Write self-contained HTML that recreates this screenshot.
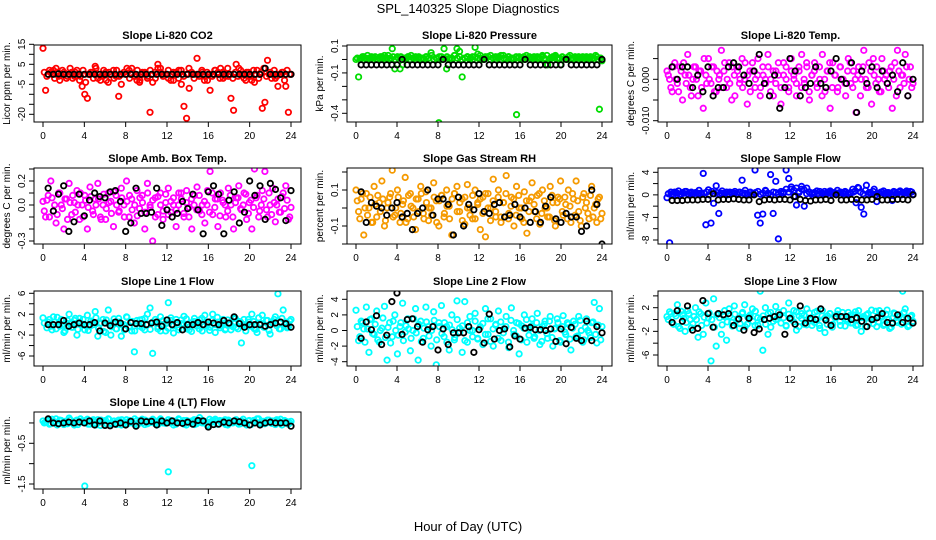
<!DOCTYPE html>
<html><head><meta charset="utf-8"><style>
html,body{margin:0;padding:0;background:#fff;}
svg{display:block;font-family:"Liberation Sans",Arial,sans-serif;}
</style></head><body>
<svg id="chart" width="936" height="540" viewBox="0 0 936 540" xmlns="http://www.w3.org/2000/svg">
<text x="468" y="13" text-anchor="middle" font-size="13">SPL_140325  Slope Diagnostics</text>
<text x="468" y="531" text-anchor="middle" font-size="13">Hour of Day (UTC)</text>
</svg>
<script>
// x-axis ticks shared by all panels
const xTicks = [0,4,8,12,16,20,24];

// Panel 1: Li-820 CO2
const co2Color = [13,-8,0,1,2,3,-1,0,1,-2,0,1,-1,2,-3,-6,-10,-12,0,1,4,-2,-3,0,1,-4,0,2,-1,-11,-5,1,0,2,3,-1,-3,-4,0,1,-2,-19,-4,1,5,3,0,0,-2,0,-3,1,2,-5,-16,-22,-7,0,0,8,0,1,-1,-3,-8,0,2,1,3,-2,0,-1,-12,-18,5,3,0,-2,1,0,-3,-4,2,0,-17,-14,7,1,0,-2,-6,0,1,-6,-19,0];
const co2Color2 = [1,-1,2,0,-2,1,-3,2,0,-1,3,-2,1,0,-1,2,-4,0,1,-2,3,0,-1,2,-3,1,0,-2,2,-1,0,1,3,-2,0,-1,2,-3,1,0,-1,2,0,-2,3,1,-1,0,2,-3,1,0,-2,2,-1,0,3,1,-2,0,-1,2,-3,1,0,-1,2,0,-2,1,-1,3,0,-2,1,-1,2,0,-3,1,-1,2,0,-2,1,3,-1,0,-2,2,-1,0,1,-3,2,0];
const co2Black = [0,0,0.2,0,0,0,0,0,0,0,0,0,0,0,0,0,0,0,0,0,0,0,0,0,0,0,0,0,0,0,0,0,0,0,0,0,0,0,0,0,0,0,3,0,0,0,0,0];
const co2Ticks = [15,10,5,0,-5,-10,-15,-20];
const co2Labels = ["15","","5","","-5","","","-20"];

// Panel 2: Li-820 Pressure
const presColor = [0.0,-0.13,0.01,0.02,0.0,0.01,0.02,0.01,0.0,0.01,0.02,0.03,0.01,0.0,0.08,-0.07,0.02,-0.07,-0.04,0.01,0.02,0.0,0.01,0.02,0.01,0.0,0.01,0.02,0.01,0.05,0.0,0.01,-0.47,0.02,0.08,-0.07,0.0,0.01,0.03,0.08,0.06,-0.13,0.01,0.02,0.0,0.02,0.09,0.04,0.0,0.01,0.02,0.02,0.03,0.01,0.0,0.02,0.03,0.01,0.0,0.02,0.01,0.0,-0.41,0.02,0.01,0.0,0.01,0.02,0.01,0.0,0.02,0.01,0.03,0.0,-0.04,0.01,0.02,0.03,0.01,-0.04,0.0,0.01,0.02,0.01,0.0,0.01,0.02,0.01,0.0,0.02,0.01,0.0,0.01,0.02,-0.37,-0.01];
const presColor2 = [0.01,0.0,0.02,0.01,0.03,0.0,0.01,0.02,0.0,0.02,0.01,0.0,0.03,0.01,0.02,0.0,0.01,0.02,0.01,0.0,0.02,0.03,0.01,0.0,0.02,0.01,0.0,0.02,0.01,0.03,0.0,0.01,0.02,0.0,0.01,0.02,0.01,0.0,0.03,0.01,0.02,0.0,0.01,0.02,0.01,0.0,0.02,0.01,0.03,0.0,0.01,0.02,0.0,0.01,0.02,0.01,0.0,0.03,0.01,0.02,0.0,0.01,0.02,0.01,0.0,0.02,0.03,0.01,0.0,0.02,0.01,0.0,0.02,0.01,0.03,0.0,0.01,0.02,0.0,0.01,0.02,0.01,0.0,0.03,0.01,0.02,0.0,0.01,0.02,0.01,0.0,0.02,0.01,0.03,0.0,0.01];
const presBlack = [-0.04,-0.04,-0.04,-0.04,-0.04,-0.04,-0.04,-0.04,0.0,-0.04,-0.04,-0.04,-0.04,-0.04,-0.04,-0.04,0.0,-0.04,-0.04,-0.04,-0.04,-0.04,-0.04,-0.04,0.0,-0.04,-0.04,-0.04,-0.04,-0.04,-0.04,-0.04,0.0,-0.04,-0.04,-0.04,-0.04,-0.04,-0.04,-0.04,0.0,-0.04,-0.04,-0.04,-0.04,-0.04,-0.04,0.0];
const presTicks = [0.1,0.0,-0.1,-0.2,-0.3,-0.4];
const presLabels = ["0.1","","-0.1","","","-0.4"];

// Panel 3: Li-820 Temp
const tempColor = [0.002,0.0,-0.003,0.004,-0.001,0.003,-0.005,0.001,0.006,-0.002,0.0,0.003,-0.004,0.002,-0.007,0.001,0.005,-0.001,0.003,-0.003,0.0,0.007,0.002,-0.002,0.004,-0.005,0.001,0.003,-0.001,0.005,0.0,-0.006,0.002,0.004,-0.002,0.001,-0.004,0.003,0.0,0.006,-0.003,0.002,-0.001,0.004,-0.006,0.001,0.003,-0.002,0.005,0.0,-0.004,0.002,0.006,-0.001,0.003,-0.005,0.001,0.004,-0.002,0.0,0.006,-0.003,0.002,-0.007,0.004,0.001,-0.002,0.003,0.0,-0.004,0.005,-0.001,0.002,-0.008,0.003,0.0,0.007,-0.002,0.004,-0.006,0.001,0.003,-0.003,0.005,0.0,-0.001,0.002,-0.007,0.004,0.007,-0.002,0.001,0.006,-0.004,0.003,-0.001];
const tempColor2 = [0.001,-0.002,0.003,0.0,-0.003,0.002,0.004,-0.001,0.001,-0.004,0.003,0.0,0.002,-0.002,0.005,-0.001,0.0,0.003,-0.003,0.002,0.001,-0.002,0.004,0.0,-0.001,0.003,-0.004,0.002,0.0,-0.002,0.004,0.001,-0.003,0.002,0.0,0.005,-0.002,0.001,-0.001,0.003,0.0,-0.004,0.002,0.001,-0.002,0.004,0.0,-0.003,0.002,0.001,-0.001,0.003,-0.002,0.0,0.004,-0.003,0.001,0.002,-0.001,0.003,-0.004,0.0,0.002,0.004,-0.002,0.001,-0.003,0.003,0.0,-0.001,0.002,0.004,-0.002,0.0,0.001,-0.004,0.003,0.0,-0.002,0.002,0.005,-0.001,0.0,-0.003,0.002,0.001,-0.002,0.003,0.0,-0.004,0.002,0.001,-0.001,0.003,0.0,-0.002];
const tempBlack = [0.003,0.0,0.003,0.003,-0.002,0.001,-0.003,0.003,-0.004,-0.002,-0.002,0.003,0.004,0.003,0.001,-0.001,0.002,0.006,-0.001,-0.004,0.001,-0.007,-0.002,0.005,0.002,-0.004,-0.002,-0.001,0.003,-0.001,-0.002,0.002,0.005,0.0,-0.001,0.004,-0.008,0.002,-0.001,0.003,-0.002,0.002,-0.001,0.001,-0.003,0.004,-0.004,0.0];
const tempTicks = [0.005,0.0,-0.005,-0.010];
const tempLabels = ["","0.000","","-0.010"];

// Panel 4: Amb. Box Temp
const ambColor = [0.03,-0.1,0.08,0.2,-0.05,-0.15,0.1,0.0,-0.2,0.05,0.18,-0.08,0.02,0.12,-0.12,0.0,0.08,-0.2,0.15,-0.05,0.05,0.18,-0.1,0.0,-0.12,0.1,0.03,-0.18,0.08,-0.06,0.14,0.0,0.2,-0.1,0.05,-0.15,0.12,-0.03,0.08,-0.2,0.18,0.0,-0.3,0.06,-0.08,0.1,-0.12,0.02,0.14,-0.06,0.0,-0.18,0.1,0.05,-0.1,0.12,-0.02,-0.2,0.08,0.15,-0.05,0.0,-0.15,0.12,0.28,-0.08,0.05,-0.18,0.1,0.02,-0.1,0.14,0.0,-0.2,0.06,0.16,-0.04,0.1,-0.12,0.02,-0.2,0.3,0.08,-0.05,0.12,0.28,-0.1,0.0,0.14,-0.14,0.05,-0.06,0.1,0.16,-0.12,-0.02];
const ambColor2 = [-0.05,0.04,-0.1,0.06,0.0,-0.08,0.1,-0.03,0.05,-0.12,0.02,0.08,-0.06,0.0,0.1,-0.1,0.04,-0.02,0.07,-0.08,0.0,0.05,-0.12,0.09,-0.03,0.02,-0.07,0.11,0.0,-0.05,0.06,-0.1,0.03,0.08,-0.04,0.0,-0.09,0.06,0.02,-0.06,0.1,-0.02,0.04,-0.1,0.07,0.0,-0.05,0.09,-0.08,0.03,0.06,-0.04,0.0,0.1,-0.07,0.02,-0.1,0.05,0.0,-0.04,0.08,-0.08,0.03,0.0,-0.06,0.1,-0.02,0.05,-0.09,0.04,0.0,-0.05,0.08,-0.1,0.02,0.06,-0.03,0.0,0.09,-0.07,0.04,-0.02,0.06,-0.1,0.0,0.05,-0.04,0.1,-0.08,0.02,0.0,-0.06,0.07,-0.03,0.04,-0.1];
const ambBlack = [0.14,-0.05,0.09,0.16,-0.22,-0.14,0.09,-0.09,0.04,0.1,0.07,0.06,0.11,0.12,0.03,-0.22,-0.15,0.14,-0.07,-0.07,-0.06,0.14,-0.17,-0.04,-0.1,-0.07,0.03,-0.03,0.09,-0.04,-0.24,0.11,0.16,0.09,-0.24,0.04,0.11,-0.15,-0.06,0.2,0.08,0.16,-0.12,0.18,0.13,0.06,-0.13,0.12];
const ambTicks = [0.3,0.2,0.1,0.0,-0.1,-0.2,-0.3];
const ambLabels = ["","0.2","","0.0","","","-0.3"];

// Panel 5: Gas Stream RH
const rhColor = [0.1,-0.02,0.05,-0.15,0.08,0.0,-0.08,0.12,-0.05,0.03,0.15,-0.1,0.0,0.06,0.21,-0.04,0.1,-0.08,0.02,0.17,-0.06,0.08,0.0,-0.12,0.05,0.12,-0.03,0.09,-0.07,0.0,0.14,0.04,-0.1,0.07,-0.05,0.1,0.01,-0.15,0.08,0.12,-0.02,0.05,-0.09,0.13,0.0,-0.06,0.1,0.03,-0.12,0.06,-0.16,0.08,0.0,0.16,-0.05,0.1,-0.08,0.03,0.18,-0.03,0.06,-0.1,0.12,0.0,-0.06,0.09,-0.14,0.04,0.14,-0.02,0.07,-0.09,0.1,0.0,-0.05,0.12,0.03,-0.1,0.06,0.15,-0.04,0.02,0.1,-0.08,0.05,0.15,-0.02,-0.1,0.08,0.03,-0.06,0.12,0.0,-0.08,0.06,-0.03];
const rhColor2 = [0.04,-0.06,0.08,0.0,-0.04,0.06,-0.08,0.02,0.07,-0.02,0.05,-0.07,0.03,0.08,-0.05,0.0,0.06,-0.03,0.04,-0.08,0.07,0.01,-0.05,0.05,-0.02,0.08,-0.06,0.03,0.0,-0.04,0.06,-0.08,0.04,0.07,-0.03,0.01,-0.06,0.05,0.08,-0.02,0.03,-0.07,0.06,0.0,-0.04,0.07,-0.06,0.02,0.05,-0.03,0.08,0.0,-0.07,0.04,-0.02,0.06,-0.05,0.03,0.08,-0.06,0.01,0.05,-0.04,0.07,0.0,-0.08,0.04,-0.02,0.06,0.02,-0.06,0.08,-0.03,0.04,0.0,-0.05,0.07,-0.07,0.03,0.05,-0.02,0.06,-0.06,0.01,0.08,-0.04,0.04,-0.07,0.06,0.0,-0.03,0.07,-0.05,0.02,0.05,-0.06];
const rhBlack = [0.09,-0.08,0.03,0.01,0.0,-0.04,0.0,0.03,-0.05,-0.03,-0.12,-0.03,0.0,0.1,-0.04,0.05,0.05,0.02,-0.15,0.06,-0.1,0.02,-0.01,0.08,-0.02,-0.03,0.02,0.03,-0.05,-0.04,0.02,-0.05,0.0,-0.08,-0.02,-0.08,0.01,0.06,-0.06,-0.08,-0.03,-0.05,-0.05,-0.13,-0.1,0.1,0.02,-0.2];
const rhTicks = [0.2,0.1,0.0,-0.1,-0.2];
const rhLabels = ["","0.1","","-0.1",""];

// Panel 6: Sample Flow
const sfColor = [-0.5,-8.5,0.2,0.5,0.3,0.1,0.4,0.6,0.2,0.3,0.1,0.4,0.2,0.3,3.8,-5.3,0.9,-5,-1.5,1.6,-3.3,0.3,0.2,0.5,0.1,0.4,0.3,0.2,0.5,2.6,0.3,0.2,0.4,0.1,4.4,-3.6,-5,-3.4,0.8,0.3,3.6,-3.3,2.4,-7.8,0.3,0.5,4.4,2.9,1.0,-0.3,-1.8,0.4,1.0,-2.0,1.2,0.5,0.3,0.4,0.2,0.6,0.3,0.1,0.5,0.7,0.4,0.2,0.3,0.5,0.2,0.4,0.1,0.3,0.5,-1.4,1.2,-2.2,-3.4,1.7,0.4,0.2,1.0,-1.2,0.3,0.5,0.2,0.4,0.3,-1.0,0.5,0.2,0.7,0.4,0.3,0.5,0.6,0.1];
const sfColor2 = [0.2,0.5,0.0,0.4,0.7,0.1,0.3,0.6,0.0,0.5,0.2,0.4,0.8,0.1,0.3,0.5,0.0,0.6,0.2,0.4,0.1,0.7,0.3,0.0,0.5,0.2,0.6,0.1,0.4,0.3,0.8,0.0,0.5,0.2,0.4,0.6,0.1,0.3,0.7,0.2,0.0,0.5,0.4,0.1,0.6,0.3,1.0,0.5,1.4,0.8,1.2,0.6,1.5,0.9,0.2,0.5,0.1,0.4,0.7,0.0,0.3,0.6,0.2,0.5,0.1,0.4,0.8,0.0,0.3,0.6,0.2,0.4,1.0,0.7,1.3,0.5,0.2,0.8,0.1,0.4,0.6,0.0,0.3,0.5,0.7,0.2,0.4,0.1,0.6,0.3,0.5,0.0,0.4,0.7,0.2,0.5];
const sfBlack = [-1,-1,-1,-0.9,-0.9,-0.9,-0.8,-0.8,0.2,-0.9,-0.8,-0.8,-0.7,-0.8,-0.9,-0.9,0.0,-1.2,-0.9,-0.8,-0.9,-0.8,-0.8,-0.9,-0.3,-0.8,-1.0,-1.1,-0.9,-0.9,-0.8,-1.0,0.0,-0.9,-0.9,-0.8,-0.8,-0.9,-0.9,-0.8,-0.3,-0.9,-0.9,-0.8,-0.8,-0.8,-0.9,0.0];
const sfTicks = [4,2,0,-2,-4,-6,-8];
const sfLabels = ["4","","0","","-4","","-8"];

// Panel 7: Line 1 Flow
const l1Color = [1.3,-8.5,0.5,-0.3,1.5,-0.8,0.2,1.0,-1.5,0.3,2.0,-0.5,0.8,-2.0,1.2,0.0,-1.0,1.8,-0.3,0.5,2.5,-2.2,0.3,1.0,-1.5,2.8,-2.0,0.4,-0.8,1.2,-2.2,0.0,1.5,-0.5,-1.2,-5.2,0.8,-0.3,1.0,-1.0,2.0,3.2,-5.5,0.5,-0.8,1.5,0.0,-1.2,4.2,0.8,-1.6,1.0,-0.5,0.2,1.6,-0.8,-1.0,0.4,1.2,-0.3,0.9,-1.2,1.8,0.0,-0.5,2.0,-1.5,0.5,-0.2,1.0,-0.8,0.3,-1.0,1.2,-0.5,0.6,-3.5,1.0,-0.3,0.5,2.0,-0.8,-1.5,0.2,1.8,-0.5,0.8,-1.8,0.4,1.5,5.9,-0.8,2.8,0.5,-0.5,1.0];
const l1Color2 = [0.3,-0.6,1.0,-1.0,0.5,1.4,-0.3,0.0,-1.2,0.8,0.2,-0.5,1.2,-0.9,0.4,1.0,-0.2,-1.1,0.7,0.0,1.3,-0.7,0.3,-1.3,0.9,0.1,-0.4,1.1,-0.8,0.5,0.0,-1.0,1.4,-0.3,0.6,-1.2,0.2,0.9,-0.6,1.2,0.0,-0.9,0.5,1.0,-0.4,-1.2,0.8,0.2,-0.7,1.3,-0.2,0.4,-1.0,0.9,0.0,1.1,-0.5,-1.3,0.6,0.2,-0.8,1.2,-0.3,0.5,-1.1,0.8,0.0,1.4,-0.6,0.3,-1.0,0.9,0.1,-0.4,1.2,-0.8,0.5,0.0,-1.2,1.0,-0.3,0.6,-0.9,1.3,0.2,-0.5,0.8,-1.1,0.4,1.0,-0.2,-0.8,1.2,0.0,-0.6,0.7];
const l1Black = [0,0,0,0.8,-0.3,0,0.3,0,0,0.4,-1.2,0.3,-0.2,0.5,0.3,-0.8,0.4,0.2,0.2,0,0.3,0.5,-0.3,0.9,0,0.4,-1,0,0,0.4,0,0.5,0.3,0,0.8,0.3,1.5,0.2,-0.5,0,0,0,-0.3,0,0.3,0.5,0.2,-0.5];
const l1Ticks = [6,4,2,0,-2,-4,-6];
const l1Labels = ["6","","2","","-2","","-6"];

// Panel 8: Line 2 Flow
const l2Color = [2.6,-1.3,1.2,0.2,3.0,-2.8,1.5,-0.5,2.5,-1.5,0.3,3.1,-3.8,1.0,-0.8,2.0,-3.0,0.5,3.5,-0.2,1.5,-2.6,0.0,2.8,-3.8,1.2,-1.0,3.0,0.5,-2.0,2.4,-4.4,1.0,3.2,-0.8,0.5,-2.5,2.0,-1.2,3.8,0.3,-2.8,3.7,-1.5,1.8,0.0,2.2,-1.0,0.5,-1.8,2.8,-0.5,1.5,-2.0,0.8,2.5,-1.3,0.2,1.8,-2.2,2.9,-0.5,1.0,-3.0,0.6,2.0,-1.5,0.2,1.5,-0.8,2.2,-1.8,0.5,1.2,-1.0,1.8,-2.0,0.3,1.0,-1.5,1.9,-0.5,0.8,-2.5,1.2,-0.8,1.8,0.0,-1.2,1.5,-0.3,1.0,3.6,-1.6,2.8,0.5];
const l2Color2 = [0.5,-0.8,1.0,-1.5,0.2,1.4,-0.4,0.8,-1.2,0.0,1.6,-0.9,0.4,-1.6,1.2,0.0,-0.6,1.0,-1.3,0.6,0.2,-1.0,1.5,-0.3,0.8,-1.4,0.3,1.1,-0.7,0.0,1.3,-1.2,0.5,-0.4,1.0,-1.5,0.7,0.1,-0.9,1.4,-0.2,0.6,-1.3,1.0,0.0,-0.8,1.2,-1.1,0.4,0.9,-0.5,1.5,-1.4,0.2,0.7,-1.0,1.1,-0.3,0.5,-1.5,1.3,0.0,-0.7,0.9,-1.2,0.3,1.4,-0.6,0.6,-1.0,1.0,0.0,-1.4,0.8,-0.4,1.2,-0.9,0.2,1.5,-1.3,0.5,-0.2,1.0,-1.1,0.3,0.8,-0.7,1.3,-1.5,0.4,0.0,-0.9,1.1,-0.5,0.7,-1.2];
const l2Black = [-1,1.1,0.1,1.9,-1.8,-0.6,3.7,4.8,-0.5,1.4,1.5,0.5,-1.5,0.1,0.5,-2.5,0.2,-1.8,-0.3,-0.3,-0.3,0.5,-2.8,0.1,-1.6,2.1,-1.1,0.0,0.2,-2.1,-0.7,-1.1,0.3,0.4,0.1,0.1,0.0,0.2,-1.4,0.2,-1.7,0.4,-1,-1.3,1.2,-1.3,0.5,-0.3];
const l2Ticks = [4,2,0,-2,-4];
const l2Labels = ["4","2","0","-2","-4"];

// Panel 9: Line 3 Flow
const l3Color = [0.5,1.3,-0.5,1.0,2.5,-1.5,0.8,-2.0,1.5,0.0,-0.7,2.0,-3.0,1.0,-2.5,2.8,0.3,-7.0,3.5,-4.5,1.0,-2.5,0.5,-3.5,1.8,-0.5,2.3,0.0,-1.5,1.0,2.5,-0.8,0.5,1.8,-1.0,0.3,4.8,-5.2,2.0,-2.5,1.2,-0.3,2.2,0.5,-8.5,1.5,-1.0,2.8,0.0,1.5,-1.8,0.6,1.0,-0.8,1.8,0.2,-1.0,1.2,0.0,-1.5,1.5,-2.2,0.6,1.0,-0.8,0.3,1.5,-1.0,0.5,0.0,1.2,-0.6,0.8,-1.0,1.5,-2.0,0.3,0.8,-0.5,1.6,0.0,-1.2,1.5,0.4,-0.8,1.6,-1.5,0.2,1.0,-0.5,0.8,4.8,1.8,-1.2,0.5,-0.3];
const l3Color2 = [0.0,1.0,-0.8,0.6,-1.2,1.4,0.2,-0.5,1.0,-1.4,0.5,0.0,1.3,-1.0,0.4,-0.6,1.1,0.0,-1.3,0.8,0.3,-0.9,1.5,-0.4,0.6,-1.1,0.9,0.0,-0.7,1.2,-1.2,0.4,0.8,-0.3,1.4,-1.0,0.1,0.6,-0.8,1.0,-1.3,0.5,0.0,1.2,-0.6,0.3,-1.1,0.9,0.4,-0.4,1.3,-1.2,0.2,0.7,-0.9,1.1,0.0,-0.5,1.4,-1.0,0.6,0.2,-0.8,1.0,-1.3,0.4,0.9,-0.3,1.2,-1.1,0.0,0.7,-0.6,1.3,-0.9,0.3,0.5,-1.2,1.0,0.1,-0.7,1.4,-0.4,0.6,-1.0,0.9,0.0,-1.3,1.1,-0.2,0.5,-0.8,1.2,0.3,-1.0,0.7];
const l3Black = [-0.5,1.5,-0.3,2.3,-1.8,-1.5,3.2,1.0,-1.3,1.0,0.8,1.0,-1.0,0.1,-1.8,0.2,-2.2,-1.6,0.0,0.2,0.5,0.8,-2.5,0.2,-0.8,2.3,-0.6,0.2,0.0,1.8,-0.1,-1.0,0.5,0.5,0.5,0.0,0.3,-0.3,-1.2,0.0,0.3,1.0,-0.5,-0.6,0.8,-0.5,0.2,-0.6];
const l3Ticks = [4,2,0,-2,-4,-6];
const l3Labels = ["","2","","-2","","-6"];

// Panel 10: Line 4 (LT) Flow
const l4Color = [0.05,0.02,0.08,-0.02,0.04,0.1,0.0,0.06,-0.04,0.03,0.12,0.01,-0.05,0.07,0.02,0.05,-1.55,0.09,-0.03,0.04,0.0,0.08,-0.06,0.03,0.06,0.1,-0.02,0.04,0.01,0.07,-0.05,0.03,0.08,0.0,0.05,-0.03,0.06,0.02,0.09,-0.04,0.04,0.01,0.07,-0.02,0.05,0.1,0.0,0.03,-1.2,0.06,-0.05,0.04,0.08,0.01,-0.03,0.06,0.02,0.05,-0.04,0.07,0.13,0.0,0.04,-0.06,0.02,0.06,0.09,-0.02,0.03,0.05,-0.04,0.07,0.01,0.04,0.08,-0.03,0.05,0.02,-0.05,0.06,-1.05,0.03,0.1,0.0,0.04,-0.02,0.07,0.02,0.05,-0.04,0.06,0.09,0.01,0.03,-0.03,0.04];
const l4Color2 = [0.0,0.06,-0.03,0.09,0.02,-0.05,0.07,0.01,0.04,-0.02,0.08,0.0,0.05,-0.04,0.1,0.02,0.06,-0.03,0.03,0.08,-0.05,0.01,0.07,0.04,-0.02,0.09,0.0,0.05,-0.04,0.03,0.08,0.01,-0.03,0.06,0.02,0.1,-0.05,0.04,0.0,0.07,-0.02,0.05,0.09,0.01,-0.04,0.06,0.03,-0.01,0.08,0.0,0.05,-0.03,0.1,0.02,0.06,-0.05,0.04,0.01,0.08,-0.02,0.03,0.07,0.0,-0.04,0.09,0.02,0.05,-0.03,0.06,0.01,0.08,-0.05,0.04,0.0,0.07,0.03,-0.02,0.09,0.01,0.05,-0.04,0.06,0.02,0.1,-0.03,0.04,0.0,0.07,-0.01,0.05,0.08,0.02,-0.05,0.06,0.03,0.0];
const l4Black = [0.1,0.0,-0.02,0.0,0.02,0.0,0.02,0.0,0.05,-0.05,0.05,-0.06,-0.07,-0.03,0.0,-0.05,0.04,-0.08,0.05,0.03,0.04,-0.05,0.05,0.0,0.05,0.0,-0.01,0.02,-0.03,0.06,0.05,-0.1,-0.04,-0.03,0.02,0.0,0.05,0.03,0.0,-0.05,0.0,-0.05,0.0,0.02,0.0,0.0,0.0,-0.08];
const l4Ticks = [0,-0.5,-1.0,-1.5];
const l4Labels = ["","-0.5","","-1.5"];

const NS = "http://www.w3.org/2000/svg";
const svg = document.getElementById('chart');
function mk(tag, attrs, parent){
  const e = document.createElementNS(NS, tag);
  for (const k in attrs) e.setAttribute(k, attrs[k]);
  (parent||svg).appendChild(e);
  return e;
}
const cols = [{bx0:34,bx1:301,h0:43,h24:291},{bx0:347,bx1:612,h0:356,h24:602},{bx0:658,bx1:923,h0:667,h24:913}];
const rows = [{by0:45,by1:122},{by0:168,by1:244},{by0:291,by1:366},{by0:412,by1:489}];

const panels = [
  {key:'co2',title:'Slope Li-820 CO2',ylab:'Licor ppm per min.',c:0,r:0,color:'#ff0000',col:co2Color,col2:co2Color2,blk:co2Black,ticks:co2Ticks,labels:co2Labels,v1:15,p1:44.3,v2:-20,p2:114.3},
  {key:'pressure',title:'Slope Li-820 Pressure',ylab:'kPa per min.',c:1,r:0,color:'#00dd00',col:presColor,col2:presColor2,blk:presBlack,ticks:presTicks,labels:presLabels,v1:0.1,p1:46,v2:-0.4,p2:113.3},
  {key:'temp',title:'Slope Li-820 Temp.',ylab:'degrees C per min.',c:2,r:0,color:'#ff00ff',col:tempColor,col2:tempColor2,blk:tempBlack,ticks:tempTicks,labels:tempLabels,v1:0.0,p1:79.3,v2:-0.010,p2:120.7},
  {key:'amb-temp',title:'Slope Amb. Box Temp.',ylab:'degrees C per min.',c:0,r:1,color:'#ff00ff',col:ambColor,col2:ambColor2,blk:ambBlack,ticks:ambTicks,labels:ambLabels,v1:0.2,p1:181,v2:-0.3,p2:241},
  {key:'rh',title:'Slope Gas Stream RH',ylab:'percent per min.',c:1,r:1,color:'#f59a00',col:rhColor,col2:rhColor2,blk:rhBlack,ticks:rhTicks,labels:rhLabels,v1:0.1,p1:190,v2:-0.1,p2:226},
  {key:'sample-flow',title:'Slope Sample Flow',ylab:'ml/min per min.',c:2,r:1,color:'#0000ff',col:sfColor,col2:sfColor2,blk:sfBlack,ticks:sfTicks,labels:sfLabels,v1:4,p1:172.3,v2:-8,p2:240},
  {key:'line1',title:'Slope Line 1 Flow',ylab:'ml/min per min.',c:0,r:2,color:'#00ffff',col:l1Color,col2:l1Color2,blk:l1Black,ticks:l1Ticks,labels:l1Labels,v1:6,p1:293.3,v2:-6,p2:356},
  {key:'line2',title:'Slope Line 2 Flow',ylab:'ml/min per min.',c:1,r:2,color:'#00ffff',col:l2Color,col2:l2Color2,blk:l2Black,ticks:l2Ticks,labels:l2Labels,v1:4,p1:299.3,v2:-4,p2:361.7},
  {key:'line3',title:'Slope Line 3 Flow',ylab:'ml/min per min.',c:2,r:2,color:'#00ffff',col:l3Color,col2:l3Color2,blk:l3Black,ticks:l3Ticks,labels:l3Labels,v1:2,p1:307.7,v2:-6,p2:355},
  {key:'line4',title:'Slope Line 4 (LT) Flow',ylab:'ml/min per min.',c:0,r:3,color:'#00ffff',col:l4Color,col2:l4Color2,blk:l4Black,ticks:l4Ticks,labels:l4Labels,v1:-0.5,p1:443.3,v2:-1.5,p2:484}
];

panels.forEach(p => {
  const C = cols[p.c], R = rows[p.r];
  const g = mk('g', {});
  
  
  const xs = h => C.h0 + (C.h24 - C.h0) * h / 24;
  const ys = v => p.p1 + (v - p.v1) * (p.p2 - p.p1) / (p.v2 - p.v1);
  const cx = (C.bx0 + C.bx1) / 2;
  const t = mk('text', {x:cx, y:R.by0-6, 'text-anchor':'middle', 'font-size':11, 'font-weight':'bold'}, g);
  t.textContent = p.title;
  
  
  const clipId = 'clip-' + p.key;
  const cp = mk('clipPath', {id:clipId}, g);
  mk('rect', {x:C.bx0, y:R.by0, width:C.bx1-C.bx0, height:R.by1-R.by0}, cp);
  const pts = mk('g', {'clip-path':'url(#'+clipId+')'}, g);
  
  
  const n1 = p.col.length;
  p.col.forEach((v, i) => {
    const c = mk('circle', {cx:xs(i*24/(n1-1)), cy:ys(v), r:2.7, fill:'none', stroke:p.color, 'stroke-width':1.8}, pts);
    
    
  });
  const n3 = p.col2.length;
  p.col2.forEach((v, i) => {
    const c = mk('circle', {cx:xs((i+0.5)*24/n3), cy:ys(v), r:2.7, fill:'none', stroke:p.color, 'stroke-width':1.8}, pts);
    
    
  });
  const n2 = p.blk.length;
  p.blk.forEach((v, i) => {
    const c = mk('circle', {cx:xs(0.5 + i*23.5/(n2-1)), cy:ys(v), r:2.7, fill:'none', stroke:'#000', 'stroke-width':1.8}, pts);
    
    
  });
  const box = mk('rect', {x:C.bx0, y:R.by0, width:C.bx1-C.bx0, height:R.by1-R.by0, fill:'none', stroke:'#000', 'stroke-width':1}, g);
  
  
  const xa = mk('g', {}, g);
  
  
  xTicks.forEach(h => {
    mk('line', {x1:xs(h), x2:xs(h), y1:R.by1, y2:R.by1+5, stroke:'#000'}, xa);
    const l = mk('text', {x:xs(h), y:R.by1+17, 'text-anchor':'middle', 'font-size':10}, xa);
    l.textContent = h;
    
    
  });
  const ya = mk('g', {}, g);
  
  
  p.ticks.forEach((v, i) => {
    const y = ys(v);
    mk('line', {x1:C.bx0-5, x2:C.bx0, y1:y, y2:y, stroke:'#000'}, ya);
    if (p.labels[i]) {
      const l = mk('text', {x:0, y:0, 'text-anchor':'middle', 'font-size':10, transform:'translate('+(C.bx0-9)+','+y+') rotate(-90)'}, ya);
      l.textContent = p.labels[i];
      
      
    }
  });
  const yl = mk('text', {x:0, y:0, 'text-anchor':'middle', 'font-size':10, transform:'translate('+(C.bx0-24)+','+((R.by0+R.by1)/2)+') rotate(-90)'}, g);
  yl.textContent = p.ylab;
  
  
});
</script>
</body></html>
